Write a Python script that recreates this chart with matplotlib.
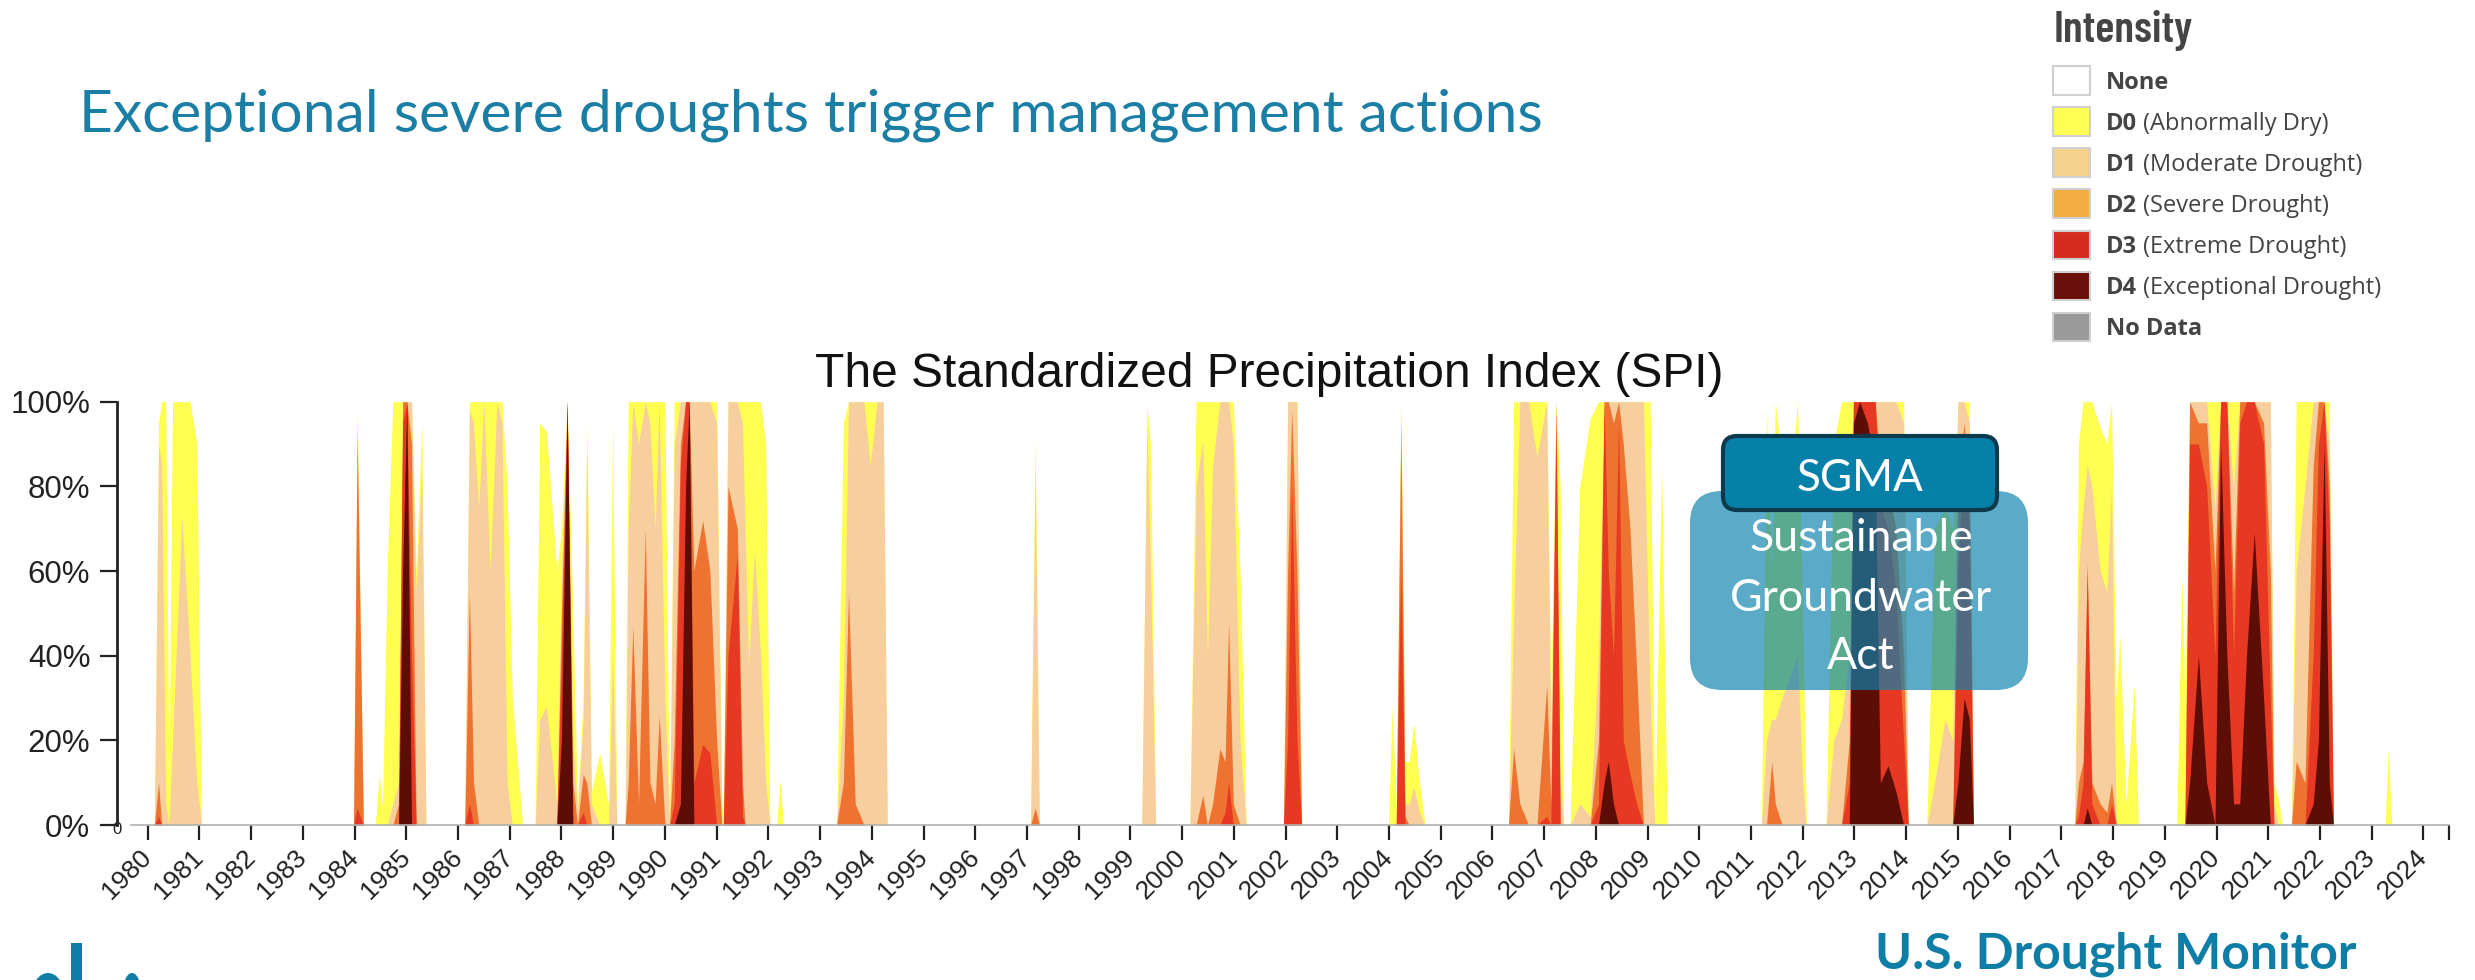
import matplotlib
matplotlib.use("Agg")
import os
import matplotlib.pyplot as plt
import matplotlib.font_manager as fm
from matplotlib.patches import FancyBboxPatch, Rectangle, Ellipse

# ---------------- data (cumulative % area: D0-D4, D1-D4, ...) ----------------
years = [
    1980.13, 1980.21, 1980.27, 1980.35, 1980.41, 1980.48, 1980.66, 1980.82, 1980.95, 1981.04,
    1983.98, 1984.05, 1984.17,
    1984.40, 1984.48, 1984.54, 1984.63, 1984.74, 1984.85, 1984.93, 1985.01, 1985.10, 1985.19, 1985.30, 1985.38,
    1986.13, 1986.22, 1986.30, 1986.40, 1986.50, 1986.62, 1986.75, 1986.85, 1986.95, 1987.05, 1987.15, 1987.25,
    1987.49, 1987.58, 1987.71, 1987.91, 1988.00, 1988.11, 1988.22, 1988.31, 1988.42, 1988.49, 1988.58, 1988.74, 1988.91, 1988.99, 1989.07,
    1989.23, 1989.29, 1989.38, 1989.49, 1989.62, 1989.71, 1989.81, 1989.89, 1990.00, 1990.09, 1990.18, 1990.30, 1990.40, 1990.47, 1990.56, 1990.73, 1990.87, 1991.00, 1991.10,
    1991.13, 1991.22, 1991.40, 1991.50, 1991.55, 1991.62, 1991.73, 1991.85, 1991.95, 1992.03, 1992.16, 1992.23, 1992.29,
    1993.32, 1993.45, 1993.55, 1993.68, 1993.85, 1993.97, 1994.10, 1994.22, 1994.30,
    1997.07, 1997.16, 1997.24,
    1999.22, 1999.32, 1999.39, 1999.49,
    2000.15, 2000.27, 2000.40, 2000.49, 2000.59, 2000.73, 2000.83, 2000.90, 2000.99, 2001.12, 2001.24,
    2001.96, 2002.04, 2002.12, 2002.22, 2002.31,
    2003.99, 2004.06, 2004.14, 2004.23, 2004.31, 2004.39, 2004.48, 2004.59, 2004.70,
    2006.31, 2006.41, 2006.53, 2006.70, 2006.86, 2007.05, 2007.13, 2007.23, 2007.31, 2007.38,
    2007.50, 2007.69, 2007.89, 2008.05, 2008.16, 2008.24, 2008.34, 2008.44, 2008.53, 2008.66, 2008.79, 2008.92, 2009.05, 2009.14, 2009.27, 2009.38,
    2011.20, 2011.30, 2011.40, 2011.47, 2011.60, 2011.75, 2011.90, 2012.00, 2012.07,
    2012.45, 2012.60, 2012.75, 2012.90, 2012.98, 2013.10, 2013.25, 2013.40, 2013.50, 2013.65, 2013.80, 2013.95, 2014.04,
    2014.40, 2014.55, 2014.75, 2014.90, 2015.00, 2015.12, 2015.22, 2015.30,
    2017.26, 2017.33, 2017.42, 2017.50, 2017.59, 2017.75, 2017.88, 2017.97, 2018.06, 2018.13, 2018.25, 2018.41, 2018.49,
    2019.23, 2019.33, 2019.39, 2019.48, 2019.65, 2019.81, 2019.97, 2020.08, 2020.20, 2020.33, 2020.45, 2020.58, 2020.73, 2020.91, 2021.04, 2021.11, 2021.20, 2021.27,
    2021.45, 2021.54, 2021.71, 2021.87, 2021.97, 2022.08, 2022.18, 2022.26,
    2023.26, 2023.32, 2023.39,
]
d0 = [
    0, 95, 100, 100, 10, 100, 100, 100, 90, 0,
    0, 98, 0,
    0, 12, 4, 60, 100, 100, 100, 100, 100, 60, 95, 0,
    0, 100, 100, 100, 100, 100, 100, 100, 80, 30, 15, 0,
    0, 95, 93, 60, 70, 100, 50, 5, 30, 95, 8, 17, 5, 95, 0,
    0, 100, 100, 100, 100, 100, 100, 100, 100, 0, 100, 100, 100, 100, 100, 100, 100, 100, 5,
    0, 100, 100, 100, 100, 100, 100, 100, 90, 0, 0, 11, 0,
    0, 95, 100, 100, 100, 100, 100, 100, 0,
    0, 91, 0,
    0, 99, 90, 0,
    0, 100, 100, 100, 100, 100, 100, 100, 100, 60, 0,
    0, 100, 100, 100, 0,
    0, 28, 5, 99, 15, 15, 24, 10, 0,
    0, 100, 100, 100, 100, 100, 30, 100, 80, 0,
    0, 80, 96, 100, 100, 100, 100, 100, 100, 100, 100, 100, 100, 0, 85, 0,
    0, 98, 60, 100, 85, 80, 100, 50, 0,
    0, 90, 100, 100, 100, 100, 100, 100, 100, 100, 100, 100, 0,
    0, 70, 75, 70, 100, 100, 100, 0,
    0, 90, 100, 100, 100, 94, 90, 100, 30, 45, 5, 33, 0,
    0, 59, 30, 100, 100, 100, 100, 100, 100, 100, 100, 100, 100, 100, 100, 10, 6, 0,
    0, 100, 100, 100, 100, 100, 100, 0,
    0, 18, 0,
]
d1 = [
    0, 90, 85, 5, 0, 20, 73, 40, 10, 0,
    0, 96, 0,
    0, 0, 0, 0, 5, 10, 100, 100, 100, 55, 85, 0,
    0, 98, 95, 75, 100, 60, 100, 95, 10, 0, 0, 0,
    0, 25, 28, 5, 60, 100, 20, 3, 25, 90, 5, 0, 0, 40, 0,
    0, 70, 100, 90, 100, 95, 70, 100, 30, 0, 90, 100, 100, 100, 100, 100, 100, 95, 0,
    0, 100, 100, 95, 70, 38, 65, 40, 10, 0, 0, 0, 0,
    0, 30, 100, 100, 100, 85, 100, 100, 0,
    0, 85, 0,
    0, 95, 60, 0,
    0, 80, 91, 40, 85, 100, 100, 100, 90, 20, 0,
    0, 100, 100, 100, 0,
    0, 0, 0, 98, 5, 5, 9, 3, 0,
    0, 50, 100, 100, 87, 100, 20, 100, 10, 0,
    0, 5, 2, 40, 100, 100, 100, 100, 100, 100, 100, 100, 30, 0, 0, 0,
    0, 20, 25, 25, 30, 35, 40, 10, 0,
    0, 20, 25, 40, 100, 100, 100, 100, 100, 100, 100, 95, 0,
    0, 10, 25, 20, 100, 100, 95, 0,
    0, 60, 75, 85, 80, 60, 55, 80, 0, 0, 0, 0, 0,
    0, 0, 0, 100, 100, 100, 75, 100, 100, 80, 100, 100, 100, 100, 100, 5, 0, 0,
    0, 60, 80, 100, 100, 100, 90, 0,
    0, 0, 0,
]
d2 = [
    0, 10, 0, 0, 0, 0, 0, 0, 0, 0,
    0, 92, 0,
    0, 0, 0, 0, 0, 5, 100, 100, 90, 0, 0, 0,
    0, 55, 10, 0, 0, 0, 0, 0, 0, 0, 0, 0,
    0, 0, 0, 0, 50, 100, 10, 0, 12, 10, 0, 0, 0, 0, 0,
    0, 10, 47, 5, 70, 10, 5, 26, 0, 0, 20, 90, 100, 100, 60, 72, 60, 20, 0,
    0, 80, 70, 10, 0, 0, 0, 0, 0, 0, 0, 0, 0,
    0, 10, 55, 5, 0, 0, 0, 0, 0,
    0, 4, 0,
    0, 0, 0, 0,
    0, 0, 7, 0, 5, 18, 15, 48, 5, 0, 0,
    0, 60, 98, 60, 0,
    0, 0, 0, 95, 2, 0, 0, 0, 0,
    0, 18, 5, 0, 0, 33, 5, 100, 0, 0,
    0, 0, 0, 20, 100, 100, 95, 100, 90, 70, 36, 0, 0, 0, 0, 0,
    0, 0, 15, 5, 0, 0, 0, 0, 0,
    0, 0, 0, 20, 100, 100, 100, 100, 85, 80, 70, 40, 0,
    0, 0, 0, 0, 80, 95, 80, 0,
    0, 10, 15, 62, 10, 5, 3, 10, 0, 0, 0, 0, 0,
    0, 0, 0, 100, 95, 95, 60, 100, 100, 55, 100, 100, 100, 95, 60, 0, 0, 0,
    0, 15, 10, 85, 100, 100, 80, 0,
    0, 0, 0,
]
d3 = [
    0, 2, 0, 0, 0, 0, 0, 0, 0, 0,
    0, 4, 0,
    0, 0, 0, 0, 0, 0, 95, 100, 40, 0, 0, 0,
    0, 5, 0, 0, 0, 0, 0, 0, 0, 0, 0, 0,
    0, 0, 0, 0, 40, 100, 0, 0, 3, 0, 0, 0, 0, 0, 0,
    0, 0, 0, 0, 0, 0, 0, 0, 0, 0, 5, 85, 100, 100, 10, 19, 17, 0, 0,
    0, 40, 64, 2, 0, 0, 0, 0, 0, 0, 0, 0, 0,
    0, 0, 0, 0, 0, 0, 0, 0, 0,
    0, 0, 0,
    0, 0, 0, 0,
    0, 0, 0, 0, 0, 0, 3, 10, 0, 0, 0,
    0, 20, 80, 20, 0,
    0, 0, 0, 60, 0, 0, 0, 0, 0,
    0, 0, 0, 0, 0, 2, 0, 95, 0, 0,
    0, 0, 0, 5, 100, 60, 40, 95, 20, 12, 5, 0, 0, 0, 0, 0,
    0, 0, 0, 0, 0, 0, 0, 0, 0,
    0, 0, 0, 10, 100, 100, 100, 100, 75, 70, 55, 20, 0,
    0, 0, 0, 0, 60, 90, 70, 0,
    0, 2, 10, 60, 5, 0, 0, 5, 0, 0, 0, 0, 0,
    0, 0, 0, 90, 90, 80, 40, 100, 100, 40, 95, 100, 100, 90, 30, 0, 0, 0,
    0, 0, 0, 40, 90, 100, 70, 0,
    0, 0, 0,
]
d4 = [
    0, 0, 0, 0, 0, 0, 0, 0, 0, 0,
    0, 0, 0,
    0, 0, 0, 0, 0, 0, 60, 100, 0, 0, 0, 0,
    0, 0, 0, 0, 0, 0, 0, 0, 0, 0, 0, 0,
    0, 0, 0, 0, 20, 100, 0, 0, 0, 0, 0, 0, 0, 0, 0,
    0, 0, 0, 0, 0, 0, 0, 0, 0, 0, 0, 5, 80, 100, 0, 0, 0, 0, 0,
    0, 0, 0, 0, 0, 0, 0, 0, 0, 0, 0, 0, 0,
    0, 0, 0, 0, 0, 0, 0, 0, 0,
    0, 0, 0,
    0, 0, 0, 0,
    0, 0, 0, 0, 0, 0, 0, 0, 0, 0, 0,
    0, 0, 0, 0, 0,
    0, 0, 0, 0, 0, 0, 0, 0, 0,
    0, 0, 0, 0, 0, 0, 0, 0, 0, 0,
    0, 0, 0, 0, 10, 15, 5, 0, 0, 0, 0, 0, 0, 0, 0, 0,
    0, 0, 0, 0, 0, 0, 0, 0, 0,
    0, 0, 0, 0, 95, 100, 95, 85, 10, 14, 8, 0, 0,
    0, 0, 0, 0, 10, 30, 25, 0,
    0, 0, 0, 4, 0, 0, 0, 0, 0, 0, 0, 0, 0,
    0, 0, 0, 10, 40, 10, 0, 90, 40, 5, 5, 40, 69, 30, 0, 0, 0, 0,
    0, 0, 0, 5, 20, 90, 10, 0,
    0, 0, 0,
]

year_ticks = list(range(1980, 2025))
pct_ticks = [0, 20, 40, 60, 80, 100]
pct_labels = ["0%", "20%", "40%", "60%", "80%", "100%"]
legend_codes = ["None", "D0", "D1", "D2", "D3", "D4", "No Data"]
legend_desc = ["", "(Abnormally Dry)", "(Moderate Drought)", "(Severe Drought)",
               "(Extreme Drought)", "(Exceptional Drought)", ""]

# ---------------- styles ----------------
area_colors = ["#ffff52", "#f7cf9f", "#ee7230", "#e63822", "#5c0d06"]
legend_colors = ["#ffffff", "#ffff55", "#f6d38c", "#f2ac42", "#d42c1f", "#6b0f0a", "#9a9a9a"]
TEAL = "#1b7fa5"
W, H = 2475, 980

for s in (d0, d1, d2, d3, d4):
    assert len(s) == len(years), (len(s), len(years))


def font_by_file(names, fallback_family="Lato"):
    files = {os.path.basename(f.fname): f.fname for f in fm.fontManager.ttflist}
    for n in names:
        if n in files:
            return fm.FontProperties(fname=files[n])
    return fm.FontProperties(family=fallback_family, weight="bold")


intensity_font = font_by_file(["BarlowCondensed-SemiBold.ttf", "BarlowCondensed-Bold.ttf",
                               "AsapCondensed-Bold.ttf", "DejaVuSansCondensed-Bold.ttf"])
monitor_font = font_by_file(["Asap-Bold.ttf", "AsapSemiCondensed-Bold.ttf", "Lato-Bold.ttf",
                             "DejaVuSansCondensed-Bold.ttf"])

fig = plt.figure(figsize=(W / 100, H / 100), dpi=100)
fig.patch.set_facecolor("white")

# chart axes (pixel geometry of the reference)
x_left_px, x_right_px = 116.7, 2449.0
y_top_px, y_bot_px = 401.7, 825.0
ax = fig.add_axes([x_left_px / W, 1 - y_bot_px / H,
                   (x_right_px - x_left_px) / W, (y_bot_px - y_top_px) / H])
px_per_year = 51.72
x0 = 1980 + (x_left_px - 147.7) / px_per_year
x1 = 1980 + (x_right_px - 147.7) / px_per_year
ax.set_xlim(x0, x1)
ax.set_ylim(0, 100)

for series, col in zip((d0, d1, d2, d3, d4), area_colors):
    ax.fill_between(years, 0, series, color=col, lw=0, antialiased=True)

for side in ("top", "right"):
    ax.spines[side].set_visible(False)
ax.spines["left"].set_color("#222222")
ax.spines["left"].set_linewidth(2.0)
ax.spines["bottom"].set_color("#b0b0b0")
ax.spines["bottom"].set_linewidth(1.2)
ax.spines["bottom"].set_bounds(1980 + (131 - 147.7) / px_per_year, x1)

ax.set_yticks(pct_ticks)
ax.set_yticklabels(pct_labels, fontfamily="Liberation Sans", fontsize=22.5, color="#222222")
ax.tick_params(axis="y", length=12, width=1.6, color="#222222", pad=7)

ax.set_xticks(year_ticks + [x1])
ax.set_xticklabels([str(y) for y in year_ticks] + [""], rotation=45, ha="right",
                   va="center", rotation_mode="anchor",
                   fontfamily="Liberation Sans", fontsize=19, color="#222222")
ax.tick_params(axis="x", length=10.8, width=1.6, color="#222222", pad=10)

# ---------------- overlay in pixel coordinates ----------------
ov = fig.add_axes([0, 0, 1, 1], zorder=5)
ov.set_xlim(0, W)
ov.set_ylim(H, 0)
ov.axis("off")

renderer = fig.canvas.get_renderer()


def fit(t, target_w):
    for _ in range(3):
        bb = t.get_window_extent(renderer)
        t.set_fontsize(t.get_fontsize() * target_w / bb.width)
    return t


# titles
t = ov.text(79, 131, "Exceptional severe droughts trigger management actions",
            fontfamily="Lato", fontsize=38, color=TEAL, va="baseline", ha="left")
fit(t, 1464)
t = ov.text(815, 387, "The Standardized Precipitation Index (SPI)",
            fontfamily="Liberation Sans", fontsize=32, color="#111111",
            va="baseline", ha="left")
fit(t, 907)

ov.text(112, 829, "0", fontfamily="Liberation Sans", fontsize=12, color="#222222",
        va="center", ha="left")

# legend
t = ov.text(2054, 41.7, "Intensity", fontproperties=intensity_font,
            fontsize=33, color="#454545", va="baseline", ha="left")
fit(t, 139)
for i, (code, desc, col) in enumerate(zip(legend_codes, legend_desc, legend_colors)):
    yc = 80.7 + 41.0 * i
    ov.add_patch(Rectangle((2053, yc - 14.2), 37.3, 28.3, fc=col, ec="#d0d0d0", lw=1.5))
    tb = ov.text(2106, yc + 8.5, code, fontfamily="Open Sans", fontweight="bold",
                 fontsize=17, color="#444444", va="baseline", ha="left")
    if desc:
        bb = tb.get_window_extent(renderer)
        ov.text(2106 + bb.width + 6, yc + 8.5, desc, fontfamily="Open Sans",
                fontsize=17, color="#444444", va="baseline", ha="left")

# SGMA call-out
ov.add_patch(FancyBboxPatch((1690, 491), 338, 199,
                            boxstyle="round,pad=0,rounding_size=32",
                            fc="#0c82ae", ec="none", alpha=0.68))
ov.add_patch(FancyBboxPatch((1723, 436), 274, 74,
                            boxstyle="round,pad=0,rounding_size=14",
                            fc="#0780a9", ec="#0d3b4d", lw=3.0))
t = ov.text(1860, 490.7, "SGMA", fontfamily="Lato", fontsize=33, color="white",
            ha="center", va="baseline")
fit(t, 127)
tg = ov.text(1861, 610.7, "Groundwater", fontfamily="Lato", fontsize=31, color="white",
             ha="center", va="baseline")
fit(tg, 262)
fs = tg.get_fontsize()
ov.text(1861, 550.7, "Sustainable", fontfamily="Lato", fontsize=fs, color="white",
        ha="center", va="baseline")
ov.text(1861, 669, "Act", fontfamily="Lato", fontsize=fs, color="white",
        ha="center", va="baseline")

# footer
t = ov.text(1875, 968, "U.S. Drought Monitor", fontproperties=monitor_font,
            fontsize=32, color="#0f7ea6", va="baseline", ha="left")
fit(t, 481)

# cut-off logo at bottom-left
ov.add_patch(Rectangle((71, 943), 11, 40, fc="#0f7ea6", ec="none"))
ov.add_patch(Ellipse((48, 995), 32, 44, fc="#0f7ea6", ec="none"))
ov.add_patch(Ellipse((132, 992), 18, 38, fc="#0f7ea6", ec="none"))

fig.savefig("out.png", dpi=100, facecolor="white")
